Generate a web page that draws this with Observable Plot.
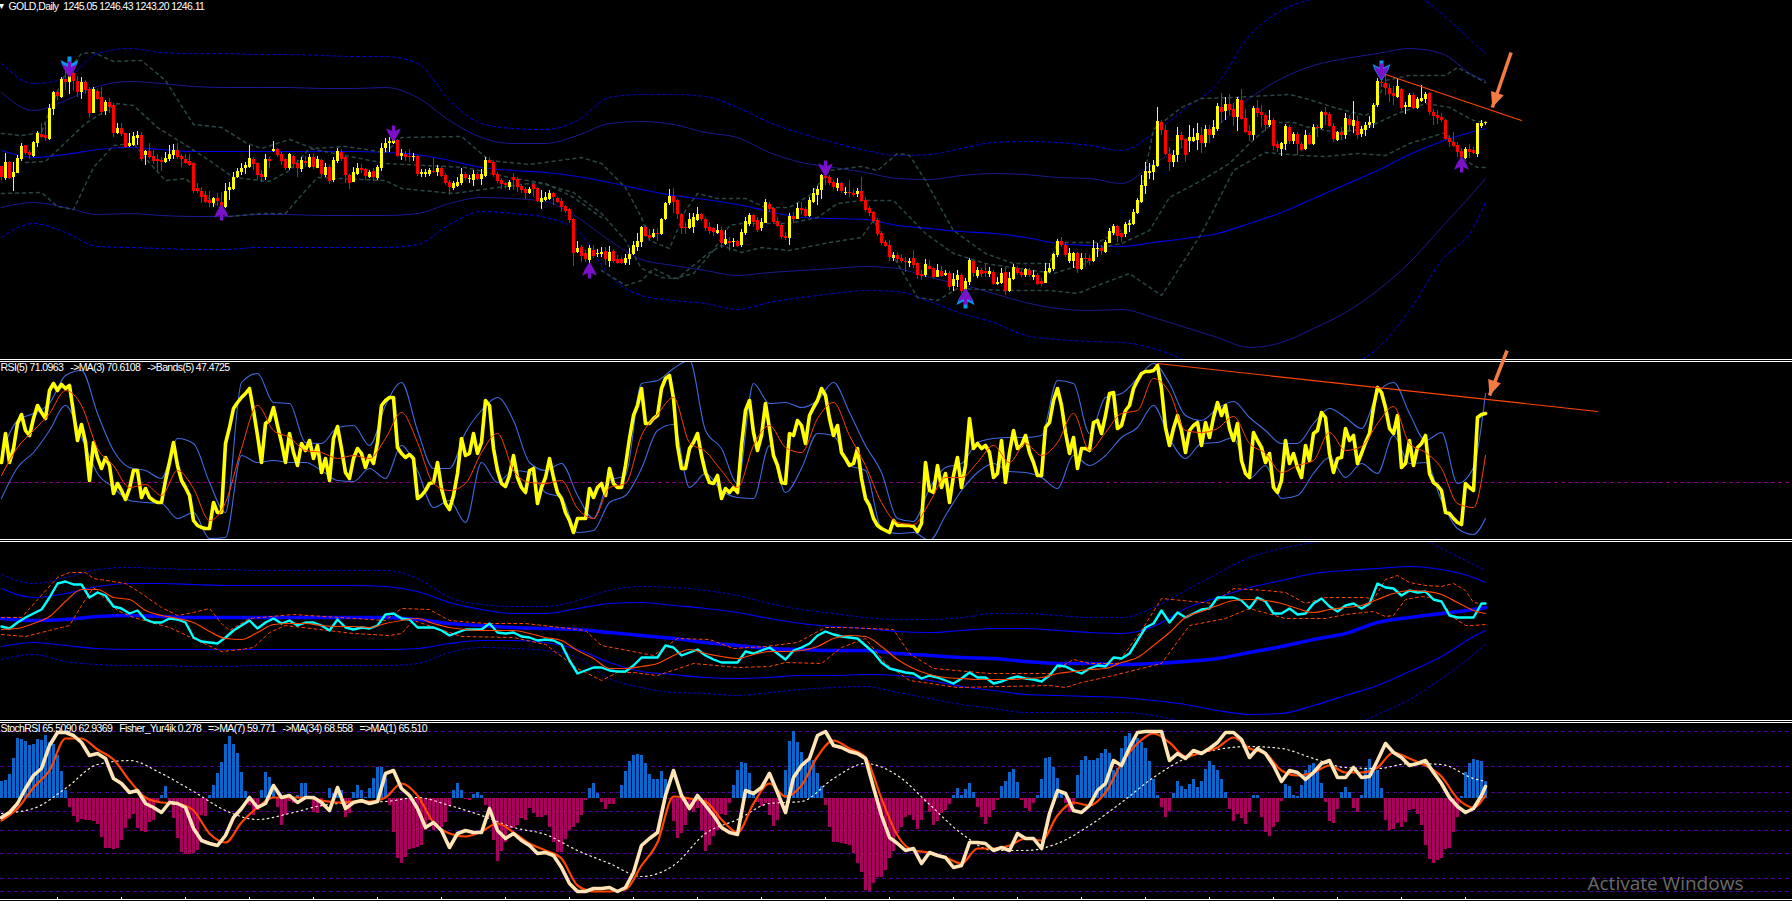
<!DOCTYPE html>
<html><head><meta charset="utf-8">
<script src="https://cdn.jsdelivr.net/npm/d3@7"></script>
<script src="https://cdn.jsdelivr.net/npm/@observablehq/plot@0.6"></script>
<style>
html,body{margin:0;padding:0;background:#000;width:1792px;height:901px;overflow:hidden}
.sep{height:1px;background:#fff}.gap{height:1px;background:#000}
#chart svg{display:block}
</style></head><body><div id="chart"></div>
<script>
// ---- Price pane: daily candles (USD) ----
const direction =
"DUDUUUDDUU"+"DDUUDUDUDD"+"UDDUDDUDDU"+"DDUUUDUDDD"+"DUUUDDDDDD"+"DDDUDDUUUU"+"UUUDDDUDUD"+"DDUDDUDUDU"+"DUDUUDDDUU"+"DDUDUUUUUD"+
"UDDUDUUUDU"+"DDDUUUDUUD"+"UUDDDDDUDD"+"DDUDDUUUDD"+"DDDDUDDUDU"+"UDUDDDUUUU"+"UDDUDUUUDD"+"DDUUUDDDDU"+"DUDUDUUUDD"+"UUDDDDDUDU"+
"DDUUUUDDDU"+"DUDDUDDDDD"+"DDDUDDDUDD"+"DUDDUDUDUU"+"DUUDUDDUDU"+"UDUUDDUDUD"+"DUUUUDDUUD"+"UDDUUDUUUD"+"DUUUUUUUUU"+"DDDUUDDUUU"+
"DUDUUDUDDU"+"DDDUDDDUDD"+"UUDUDDUDUD"+"UDDDUDUDUD"+"UUUUUDDDDU"+"DUUDUUUDDD"+"DDDDDDUDDUUU";
const bodyTop = [1202,1206,1206,1196,1210,1222,1223,1216,1226,1235,
1234,1233,1260,1276,1276,1289,1289,1295,1295,1287,1286,1286,1279,1279,1277,1271,1266,1266,1263,1240,
1240,1235,1225,1232,1233,1233,1217,1217,1212,1209,1208,1210,1214,1218,1218,1212,1209,1207,1205,1180,
1177,1173,1168,1170,1170,1166,1177,1181,1191,1197,1200,1203,1210,1209,1205,1194,1209,1209,1219,1219,
1214,1209,1214,1212,1205,1208,1207,1211,1211,1209,1208,1201,1201,1208,1217,1216,1211,1193,1196,1200,
1200,1199,1196,1197,1201,1220,1225,1227,1228,1228,1215,1214,1212,1212,1212,1196,1196,1198,1197,1200,
1200,1193,1186,1185,1186,1194,1194,1190,1194,1194,1194,1208,1208,1206,1194,1188,1185,1186,1191,1189,
1182,1179,1179,1184,1180,1170,1171,1175,1175,1170,1167,1162,1159,1149,1120,1121,1115,1120,1118,1115,
1116,1117,1116,1117,1109,1109,1110,1114,1123,1127,1141,1141,1133,1135,1135,1149,1165,1172,1172,1168,
1154,1141,1149,1151,1154,1154,1149,1141,1140,1138,1138,1129,1127,1127,1127,1136,1147,1153,1153,1148,
1146,1166,1164,1160,1147,1143,1132,1152,1152,1160,1160,1159,1168,1175,1179,1193,1192,1191,1186,1185,
1185,1176,1176,1175,1177,1177,1168,1160,1156,1148,1135,1126,1123,1113,1113,1110,1107,1107,1110,1105,
1094,1104,1102,1100,1098,1097,1095,1095,1089,1093,1093,1087,1108,1107,1098,1098,1097,1097,1096,1086,
1095,1096,1090,1101,1100,1096,1099,1098,1093,1093,1087,1097,1100,1114,1127,1127,1123,1115,1115,1115,
1110,1110,1110,1120,1120,1120,1126,1137,1142,1142,1135,1144,1145,1156,1168,1183,1197,1197,1203,1247,
1246,1238,1214,1213,1233,1233,1229,1231,1231,1235,1233,1239,1239,1241,1262,1261,1264,1264,1259,1269,
1268,1250,1237,1260,1260,1256,1253,1248,1248,1224,1225,1242,1241,1234,1234,1224,1233,1233,1241,1241,
1256,1256,1254,1242,1236,1236,1250,1249,1248,1247,1239,1243,1246,1263,1287,1286,1285,1280,1275,1282,
1279,1263,1273,1273,1269,1270,1274,1275,1256,1253,1251,1248,1230,1226,1223,1217,1219,1219,1218,1245,1245,1246.11];
const bodyBottom = [1191,1190,1190,1191,1195,1209,1215,1213,1212,1225,
1231,1230,1229,1259,1272,1271,1286,1286,1287,1276,1276,1278,1255,1255,1269,1256,1257,1261,1235,1235,
1234,1221,1222,1223,1230,1209,1213,1211,1207,1207,1206,1206,1209,1213,1211,1209,1205,1203,1177,1177,
1171,1166,1165,1165,1167,1161,1161,1178,1179,1191,1196,1200,1201,1204,1193,1191,1191,1207,1217,1213,
1207,1200,1200,1204,1200,1199,1205,1201,1201,1200,1194,1193,1187,1188,1207,1209,1193,1185,1186,1194,
1198,1192,1191,1191,1190,1200,1220,1225,1225,1212,1212,1211,1211,1211,1194,1194,1194,1194,1196,1196,
1192,1185,1181,1180,1182,1185,1190,1189,1188,1189,1189,1192,1205,1193,1187,1184,1183,1181,1188,1181,
1178,1175,1175,1179,1167,1166,1168,1169,1171,1166,1161,1157,1148,1115,1116,1112,1109,1108,1112,1114,
1114,1109,1107,1107,1105,1105,1105,1109,1114,1121,1126,1132,1130,1131,1134,1134,1149,1165,1166,1154,
1140,1140,1140,1141,1148,1149,1140,1137,1136,1135,1125,1124,1125,1126,1122,1123,1135,1144,1146,1138,
1140,1145,1159,1146,1142,1131,1130,1130,1149,1149,1158,1152,1152,1166,1173,1178,1190,1185,1181,1180,
1177,1175,1175,1173,1174,1167,1158,1155,1147,1134,1125,1122,1111,1110,1109,1107,1106,1105,1103,1093,
1092,1093,1099,1091,1091,1092,1093,1081,1082,1088,1077,1078,1086,1095,1092,1094,1095,1094,1084,1084,
1085,1077,1077,1089,1095,1093,1093,1093,1091,1084,1084,1085,1096,1099,1113,1123,1113,1107,1107,1099,
1099,1109,1107,1107,1119,1117,1116,1125,1135,1132,1131,1134,1143,1144,1155,1166,1182,1195,1196,1202,
1238,1214,1206,1206,1213,1228,1213,1227,1227,1228,1225,1225,1233,1233,1239,1256,1257,1258,1251,1251,
1249,1236,1233,1233,1255,1253,1243,1243,1222,1220,1219,1224,1227,1227,1224,1218,1219,1224,1224,1240,
1240,1253,1242,1229,1228,1233,1233,1243,1242,1233,1234,1238,1243,1245,1263,1285,1280,1274,1272,1271,
1260,1261,1261,1260,1260,1267,1269,1256,1252,1250,1248,1229,1226,1222,1216,1211,1210,1216,1215,1214,1242,1245.05];
const high = [1202,1215,1207,1206,1213,1225,1223,1218,1227,1237,
1245,1245,1264,1277,1278,1291,1300,1299,1296,1292,1291,1288,1281,1281,1279,1281,1268,1270,1265,1245,
1245,1235,1235,1236,1237,1236,1218,1225,1218,1214,1211,1216,1223,1224,1225,1214,1214,1214,1206,1185,
1181,1177,1177,1171,1175,1176,1185,1186,1196,1200,1205,1206,1223,1211,1206,1198,1214,1211,1227,1220,
1216,1210,1215,1213,1208,1211,1212,1214,1214,1212,1209,1205,1203,1211,1220,1219,1212,1194,1201,1205,
1204,1200,1198,1200,1203,1225,1230,1231,1235,1229,1219,1217,1219,1215,1213,1199,1199,1200,1210,1203,
1202,1195,1188,1187,1191,1200,1196,1193,1198,1196,1199,1211,1211,1207,1196,1190,1186,1188,1195,1191,
1184,1181,1181,1185,1181,1178,1176,1178,1176,1171,1170,1163,1160,1150,1127,1123,1118,1123,1123,1119,
1121,1121,1122,1119,1113,1111,1114,1120,1127,1135,1142,1143,1139,1139,1140,1150,1166,1179,1180,1169,
1155,1146,1155,1155,1161,1155,1151,1146,1141,1144,1141,1138,1131,1130,1128,1139,1151,1155,1154,1151,
1150,1169,1166,1161,1151,1145,1136,1155,1156,1165,1166,1161,1171,1180,1182,1194,1196,1193,1188,1190,
1186,1181,1188,1179,1180,1191,1171,1162,1157,1150,1137,1128,1128,1116,1115,1114,1111,1110,1118,1106,
1098,1109,1108,1101,1104,1102,1098,1097,1095,1098,1095,1090,1110,1108,1101,1100,1105,1101,1098,1091,
1100,1101,1096,1104,1102,1098,1100,1100,1098,1095,1090,1105,1105,1115,1129,1131,1126,1120,1116,1116,
1115,1115,1113,1128,1125,1123,1128,1140,1144,1143,1136,1146,1148,1159,1170,1193,1206,1205,1208,1261,
1248,1243,1221,1218,1241,1236,1230,1243,1240,1245,1241,1243,1243,1248,1265,1275,1271,1274,1265,1271,
1279,1259,1243,1262,1268,1263,1255,1258,1250,1227,1226,1244,1243,1236,1236,1226,1238,1235,1244,1243,
1257,1261,1256,1245,1237,1241,1255,1253,1267,1252,1242,1246,1252,1265,1290,1292,1293,1284,1282,1289,
1280,1266,1275,1275,1271,1283,1276,1276,1259,1258,1255,1249,1233,1236,1226,1220,1221,1224,1221,1245,1248,1246.43];
const low = [1188,1188,1189,1177,1195,1207,1213,1209,1211,1221,
1230,1227,1228,1253,1268,1270,1278,1274,1277,1271,1269,1274,1250,1255,1268,1253,1253,1255,1231,1234,
1232,1220,1221,1222,1223,1207,1203,1209,1204,1197,1197,1205,1207,1209,1209,1201,1204,1202,1175,1175,
1165,1165,1161,1161,1162,1159,1160,1168,1178,1190,1193,1194,1200,1198,1188,1186,1188,1200,1216,1211,
1203,1198,1198,1200,1191,1196,1201,1200,1199,1200,1191,1191,1184,1186,1205,1207,1185,1179,1186,1193,
1195,1188,1190,1187,1188,1197,1216,1216,1224,1211,1208,1207,1206,1207,1192,1191,1191,1192,1195,1192,
1191,1183,1173,1178,1181,1183,1188,1185,1182,1188,1183,1191,1205,1191,1185,1179,1179,1178,1178,1176,
1175,1169,1174,1171,1166,1159,1167,1168,1163,1165,1156,1155,1145,1102,1115,1106,1106,1101,1110,1111,
1111,1103,1101,1105,1104,1104,1103,1103,1113,1117,1121,1131,1128,1130,1127,1133,1148,1163,1155,1149,
1134,1134,1139,1135,1147,1147,1137,1134,1132,1134,1120,1123,1117,1121,1121,1121,1133,1142,1141,1136,
1137,1145,1156,1144,1141,1129,1128,1123,1145,1149,1153,1151,1151,1165,1163,1169,1183,1183,1179,1177,
1175,1173,1171,1171,1171,1166,1156,1152,1145,1132,1123,1121,1107,1107,1105,1105,1096,1101,1100,1089,
1088,1091,1098,1090,1091,1091,1092,1078,1077,1081,1075,1077,1083,1091,1090,1091,1091,1091,1083,1083,
1084,1073,1076,1088,1093,1091,1091,1091,1088,1083,1082,1085,1095,1097,1111,1121,1111,1105,1100,1095,
1098,1101,1103,1106,1111,1113,1115,1125,1133,1126,1126,1131,1136,1143,1154,1165,1174,1189,1188,1201,
1233,1213,1197,1201,1206,1220,1206,1216,1226,1218,1215,1221,1225,1230,1237,1245,1248,1253,1242,1237,
1248,1235,1227,1228,1251,1241,1237,1241,1218,1216,1212,1218,1224,1224,1213,1217,1218,1223,1223,1231,
1239,1243,1241,1226,1227,1228,1229,1236,1235,1229,1231,1232,1240,1240,1261,1281,1273,1266,1263,1270,
1258,1254,1261,1259,1259,1266,1265,1253,1243,1244,1246,1228,1221,1221,1211,1209,1209,1210,1214,1211,1240,1243.2];

// Bollinger envelopes on the price pane, read every 8 bars
const bandOuterUpper=[1305,1285,1290,1315,1320,1316,1315,1315,1314,1314,1313,1312,1312,1305,1268,1245,1240,1239,1248,1271,1274,1274,1272,1261,1246,1235,1226,1218,1213,1214,1220,1226,1227,1226,1223,1218,1235,1260,1285,1333,1358,1370,1380,1385,1378,1355,1326,1315];
const bandInnerUpper=[1276,1258,1268,1282,1287,1285,1282,1281,1281,1281,1280,1280,1281,1271,1248,1231,1225,1225,1233,1245,1247,1244,1236,1231,1216,1206,1201,1196,1190,1189,1193,1195,1194,1191,1190,1185,1205,1223,1243,1270,1290,1303,1310,1315,1320,1315,1293,1288];
const bandMiddle=[1218,1211,1214,1219,1221,1219,1217,1217,1217,1217,1217,1217,1216,1214,1208,1201,1198,1196,1192,1186,1179,1173,1169,1164,1157,1151,1150,1149,1143,1140,1137,1135,1131,1125,1123,1122,1126,1130,1135,1145,1156,1170,1184,1198,1214,1227,1237,1240];
const bandInnerLower=[1161,1166,1161,1154,1155,1153,1152,1152,1154,1154,1153,1153,1153,1155,1165,1171,1170,1167,1151,1128,1109,1103,1098,1093,1096,1098,1100,1102,1100,1091,1084,1075,1066,1060,1058,1059,1051,1041,1031,1021,1026,1040,1056,1078,1106,1141,1176,1190];
const bandOuterLower=[1131,1145,1136,1122,1121,1120,1119,1119,1121,1121,1121,1121,1121,1124,1144,1157,1155,1151,1138,1093,1073,1068,1065,1059,1066,1071,1075,1078,1077,1067,1055,1046,1033,1029,1027,1026,1020,1008,993,983,983,988,1001,1020,1058,1108,1141,1166];
// Short period envelopes: [bar, price] pairs
const shortUpper=[[0,1235],[5,1233],[10,1236],[13,1268],[16,1295],[20,1315],[23,1316],[28,1307],[35,1308],[41,1288],[48,1244],[55,1241],[61,1226],[65,1220],[72,1229],[78,1220],[86,1222],[96,1216],[100,1231],[115,1232],[122,1208],[132,1204],[145,1211],[150,1205],[156,1181],[160,1151],[162,1128],[167,1120],[171,1158],[174,1175],[179,1170],[186,1170],[191,1161],[197,1161],[202,1173],[207,1198],[215,1202],[219,1198],[224,1215],[227,1213],[231,1188],[238,1138],[246,1115],[253,1105],[262,1105],[264,1126],[274,1126],[280,1138],[284,1158],[288,1239],[295,1261],[300,1270],[308,1271],[322,1274],[326,1270],[334,1260],[341,1253],[343,1258],[346,1288],[352,1293],[361,1293],[364,1301],[371,1286]];
const shortLower=[[0,1175],[10,1176],[14,1162],[18,1159],[23,1201],[28,1223],[33,1225],[38,1201],[41,1188],[46,1190],[57,1152],[65,1155],[71,1155],[76,1178],[79,1191],[96,1188],[100,1180],[113,1175],[124,1181],[134,1186],[143,1176],[150,1155],[156,1128],[160,1100],[165,1091],[169,1090],[176,1113],[180,1123],[185,1116],[190,1121],[197,1118],[207,1126],[215,1131],[218,1148],[225,1098],[229,1071],[234,1068],[239,1080],[251,1078],[262,1078],[269,1075],[274,1083],[282,1095],[290,1073],[292,1085],[300,1135],[308,1198],[311,1205],[316,1216],[325,1213],[331,1212],[339,1215],[346,1213],[352,1225],[361,1236],[366,1208],[369,1201],[371,1201]];
const shortInnerA=[[6,1206],[11,1207],[21,1245],[29,1265],[33,1263],[39,1241],[45,1226],[52,1208],[58,1191],[67,1187],[72,1198],[77,1220],[96,1205],[116,1201],[127,1191],[136,1185],[143,1171],[150,1151]];
const shortInnerB=[[150,1098],[156,1083],[160,1088],[163,1100],[168,1090],[173,1095],[178,1118],[182,1143],[185,1145],[197,1145],[204,1151],[209,1165],[215,1168],[223,1168],[231,1135],[238,1115],[246,1105],[263,1095],[271,1105],[275,1121],[280,1125],[287,1138],[292,1171],[300,1188],[307,1205],[312,1225],[318,1246],[323,1246],[326,1242],[334,1236],[341,1240],[349,1255],[356,1265],[362,1261],[368,1248],[371,1246]];
// Buy and sell signal arrows
const sellPurpleBars=[17,98,206,345], sellPurplePrices=[1299,1235,1200,1297];
const buyPurpleBars=[55,147,241,365], buyPurplePrices=[1156,1098,1072,1204];
const sellBlueBars=[17,345], sellBluePrices=[1302,1298];
const buyBlueBars=[241], buyBluePrices=[1070];
const priceTrendBars=[346,380], priceTrendValues=[1294,1248];
const priceArrow={bar1:377.4,price1:1316,bar2:372.7,price2:1261};

// ---- RSI pane (176 units = 100 RSI) ----
const rsiLine=[76,105,76,90,115,124,108,103,120,133,126,120,148,155,148,154,150,153,126,98,
114,96,58,96,81,70,81,73,45,55,48,39,50,68,68,41,50,41,38,36,36,58,76,96,73,58,51,43,18,13,
11,10,10,36,26,26,95,111,130,136,141,145,150,128,103,76,115,118,131,113,96,76,105,86,73,95,88,98,80,93,
66,80,58,100,112,90,66,60,80,90,85,71,83,75,96,133,138,141,141,91,85,81,84,80,40,43,48,55,56,76,
50,35,29,43,65,100,83,85,105,85,96,138,133,90,68,55,52,63,83,61,51,46,68,70,35,51,61,80,61,46,
40,26,18,6,20,20,20,50,41,51,
55,43,70,55,51,51,73,100,123,133,150,115,115,120,123,150,160,163,140,93,70,70,90,96,105,83,66,56,55,63,
40,50,46,51,46,93,128,138,106,88,103,135,110,83,73,56,55,105,103,118,113,95,123,131,138,150,143,120,103,113,
86,80,73,75,90,60,40,33,20,13,10,8,6,18,13,13,13,13,12,7,15,76,48,46,73,51,65,36,63,81,
51,73,120,90,95,90,93,86,61,65,98,56,86,108,90,93,103,86,76,63,63,111,116,138,150,133,106,85,101,70,
90,90,88,116,118,105,123,145,146,110,113,128,133,150,158,165,167,167,168,173,150,111,93,110,123,108,86,108,113,116,
93,116,101,121,136,123,133,110,98,115,78,65,61,106,98,91,76,85,51,46,58,98,75,85,71,61,93,78,105,108,
126,121,85,66,80,81,110,98,103,75,85,96,105,131,151,146,131,110,105,123,71,75,98,73,91,95,103,65,56,53,
48,26,25,20,16,14,55,51,48,121,124,125];
// Read every 4 bars
const rsiMA=[63,91,108,125,148,133,90,73,51,54,43,68,50,18,36,90,133,108,101,88,86,80,83,80,100,126,96,55,48,55,86,105,68,56,55,58,30,20,
51,55,103,124,141,96,87,68,51,93,113,91,86,120,136,103,73,36,16,14,36,61,61,76,93,76,95,83,96,125,88,106,125,128,160,146,108,
106,110,122,95,85,66,73,78,106,88,92,115,132,95,86,70,35,31,83];
const rsiUpper=[86,118,125,135,163,168,125,88,71,68,60,100,95,56,26,156,165,136,135,96,95,111,113,93,133,156,108,70,70,106,128,141,118,76,68,75,43,20,
58,63,155,158,170,178,108,90,55,155,135,136,131,138,156,126,93,66,20,17,50,71,75,96,100,101,101,103,158,155,105,141,145,160,175,155,123,
118,130,137,121,108,95,95,115,130,121,110,145,156,125,98,106,55,71,145];
const rsiLower=[40,71,86,108,133,101,65,51,38,36,35,20,26,0,1,83,76,78,76,76,68,58,57,70,60,93,68,31,38,16,76,56,68,66,46,41,6,8,
36,43,70,108,114,51,65,48,41,40,93,46,70,105,103,73,68,10,5,6,-2,23,48,66,75,67,66,61,50,83,73,83,101,111,133,100,80,
95,96,101,60,73,40,43,65,81,61,75,65,103,75,76,38,10,4,20];
const rsiLevel=[56];
const rsiTrendBars=[289,399], rsiTrendValues=[175,127];
const rsiArrow={bar1:376.4,rsi1:188,bar2:372,rsi2:143};

// ---- Third pane: smoothed line with envelopes ----
const cyanLine=[94,92,98,103,107,111,123,137,139,136,136,123,128,125,114,112,107,110,101,98,
98,102,101,98,83,79,78,77,83,90,95,100,92,98,102,97,100,95,98,98,95,90,101,93,91,93,92,95,106,107,
102,101,93,93,93,90,85,88,91,91,91,97,88,87,88,84,83,80,81,80,76,60,47,50,53,53,
50,49,49,55,63,63,63,75,73,65,68,71,65,61,58,58,58,69,67,70,73,67,61,70,73,77,85,89,86,84,
83,82,75,68,58,52,50,48,47,42,45,43,40,37,42,48,43,43,37,39,42,44,42,41,39,45,55,54,50,47,
52,55,54,63,62,67,80,93,97,110,98,108,103,107,111,112,123,123,123,120,112,123,119,107,107,112,106,107,117,122,
114,109,115,117,112,117,137,133,132,125,130,128,129,121,119,105,103,103,103,117,117];
const thirdMA=[91,92,97,104,119,131,131,123,121,110,105,102,98,89,82,81,88,96,97,97,95,94,94,93,97,100,102,97,93,91,90,90,90,87,83,80,70,62,
52,52,54,57,65,71,67,64,62,66,69,69,70,74,82,85,84,74,61,52,46,43,42,41,41,41,42,43,47,49,51,52,58,63,75,88,103,109,115,120,121,120,117,112,108,111,113,115,121,127,
130,129,126,118,110,107];
const thirdMiddle=[102,100,101,104,105,104,103,103,103,103,103,103,103,101,97,95,93,92,91,88,85,82,78,75,72,71,70,70,67,65,63,62,59,57,57,56,57,59,62,68,74,81,87,98,103,107,111,113];
const thirdInnerUpper=[132,123,127,134,137,137,136,135,135,135,135,135,134,129,118,111,107,107,112,117,118,115,112,108,102,97,94,92,89,88,90,92,92,90,88,87,94,112,123,133,140,147,150,152,154,151,143,138];
const thirdInnerLower=[74,78,75,72,71,71,71,71,71,71,71,71,71,72,77,80,80,78,71,58,49,46,43,42,43,45,45,46,45,40,34,30,26,25,24,23,20,16,10,6,7,15,25,35,49,64,84,90];
const thirdOuterUpper=[146,137,143,151,153,152,151,151,150,150,150,150,150,142,123,116,114,114,120,130,134,133,130,125,117,111,107,103,101,101,103,107,107,105,103,103,113,130,147,163,172,178,182,186,186,172,156,150];
const thirdOuterLower=[61,66,59,56,55,55,54,54,55,55,55,55,55,57,68,73,72,70,63,42,33,28,27,25,28,31,33,34,28,22,16,12,8,8,8,8,5,-2,-10,-15,-15,-12,-8,6,21,42,66,76];
const thirdDashUpper=[[0,103],[5,103],[14,143],[17,148],[21,148],[23,142],[31,137],[35,127],[40,113],[44,105],[48,108],[52,112],[55,97],[57,90],[62,102],[73,106],[96,100],[100,112],[107,111],[112,100],[121,97],[131,97],[144,91],[146,90],[150,75],[163,65],[169,82],[177,81],[183,72],[191,74],[199,78],[206,93],[211,93],[223,91],[227,67],[233,52],[247,47],[262,47],[268,61],[272,57],[279,57],[285,90],[290,122],[303,117],[308,132],[316,130],[321,128],[326,117],[331,123],[341,123],[343,121],[346,141],[349,145],[352,138],[356,135],[360,134],[363,137],[366,130],[368,118],[371,116]];
const thirdDashLower=[[0,86],[6,84],[12,90],[17,95],[20,115],[23,133],[29,110],[33,103],[42,93],[49,80],[55,69],[60,71],[63,73],[67,88],[71,95],[88,87],[97,85],[100,87],[103,100],[115,84],[128,83],[136,76],[144,52],[146,48],[150,40],[154,48],[158,48],[164,45],[173,57],[184,53],[192,54],[196,58],[205,57],[210,73],[216,82],[221,57],[227,40],[239,33],[262,35],[266,33],[270,38],[278,45],[290,57],[297,95],[306,102],[312,112],[321,102],[331,102],[336,106],[343,109],[346,104],[348,105],[351,121],[355,124],[357,123],[360,119],[363,103],[366,95],[368,95],[371,96]];

// ---- Fourth pane: StochRSI (160 units = 100) and Fisher histogram ----
const fisherZero=93;
const fisherHist=[17,18,24,40,60,59,57,53,54,59,58,63,56,54,43,27,8,-9,-18,-24,-21,-22,-22,-23,-26,-39,-50,-50,-51,-50,
-42,-30,-21,-16,-30,-33,-34,-24,-22,-4,3,12,-4,-20,-40,-54,-56,-56,-55,-52,-17,-18,3,13,25,36,54,62,54,45,
26,7,-7,-17,-12,8,26,21,8,-9,-27,-17,-3,-5,3,15,15,0,-14,-15,-9,0,10,5,12,8,-19,-15,6,13,
8,1,10,20,31,31,20,-7,-34,-60,-65,-59,-51,-50,-49,-47,-32,-22,-32,-30,-29,-24,-8,8,15,8,-1,-2,4,6,
3,-7,-19,-42,-63,-53,-44,-30,-30,-27,-20,-22,-10,-15,-19,-19,-17,-29,-44,-54,-54,-41,-32,-29,-25,-17,-2,10,15,5,
-4,-11,-6,-6,0,13,27,37,43,44,43,35,24,19,19,27,19,-1,-23,-40,-35,-27,-12,-14,-10,-32,-53,-47,-38,-32,
-16,-17,-5,13,28,36,35,25,7,-4,-8,-5,-17,-28,-22,0,28,57,67,56,46,36,41,38,25,12,-7,-29,-44,-44,
-45,-46,-47,-55,-65,-74,-92,-93,-85,-79,-79,-72,-60,-53,-35,-29,-19,-17,-22,-31,-22,-4,-14,-27,-23,-15,-12,-6,3,10,
3,9,15,6,-9,-19,-26,-19,-12,-2,12,17,26,29,16,-2,-10,-13,-5,3,19,40,41,31,20,6,-5,-14,-7,23,
38,42,38,38,40,
45,49,45,28,30,50,62,65,60,60,56,50,37,19,3,-9,-19,-13,5,17,12,9,14,19,11,17,29,37,33,28,19,6,-11,-23,-16,-20,-26,-14,3,3,
-19,-34,-38,-29,-24,-3,14,12,3,2,13,28,33,35,28,15,-4,-23,-25,-11,6,11,6,-10,-14,3,30,39,30,28,10,-22,-32,-31,-25,-29,-24,-12,-11,-16,
-27,-47,-61,-65,-62,-60,-51,-50,-34,-19,2,26,35,39,38,37,17];
const stochMain=[74,79,88,103,116,123,146,159,159,156,149,136,138,133,113,108,99,101,88,84,79,89,88,84,63,51,48,46,56,74,
83,94,84,88,106,94,96,89,94,94,89,81,104,83,89,91,88,90,118,121,103,96,83,64,69,61,44,58,61,59,
59,83,61,53,58,51,46,38,39,36,24,8,0,0,3,
3,4,0,4,19,46,53,59,96,121,96,83,96,86,76,64,59,57,101,98,104,118,99,79,114,126,133,156,160,146,
144,140,138,133,104,76,54,48,41,43,28,39,36,34,24,26,49,49,48,41,44,41,58,53,53,43,78,101,98,81,79,86,101,
108,131,126,144,159,160,160,160,131,138,133,141,138,143,149,159,159,152,134,143,138,126,110,121,119,112,119,128,131,114,
114,124,114,115,131,148,139,134,126,128,131,119,108,94,85,79,83,96,105];
const stochMA7=[71,83,104,121,153,153,142,132,111,94,89,88,81,58,49,69,84,94,94,94,91,89,90,90,94,108,96,69,58,55,60,68,59,48,41,33,6,0,
0,2,26,49,95,93,90,72,59,88,108,95,106,135,151,143,134,93,56,41,39,34,28,43,43,46,53,51,76,89,86,
99,128,148,158,149,135,139,144,154,143,138,121,116,119,126,119,119,124,139,133,126,115,93,84,96];
const stochMA34=[78,83,103,127,131,118,100,81,72,78,86,89,90,94,86,76,64,57,41,28,15,26,58,72,88,90,113,128,116,87,58,41,41,48,66,89,114,133,142,145,143,133,124,123,128,127,113,110];
const stochLevels=[160,125,99,80,61,38,13,0];
const timeTickBars=d3.range(14,372,16);

// ---- Texts ----
const priceLabel="GOLD,Daily  1245.05 1246.43 1243.20 1246.11";
const rsiLabel="RSI(5) 71.0963   ->MA(3) 70.6108   ->Bands(5) 47.4725";
const stochLabel="StochRSI 65.5090 62.9369   Fisher_Yur4ik 0.278   =>MA(7) 59.771   ->MA(34) 68.558   =>MA(1) 65.510";
const watermark="Activate Windows";

// ---- Colours ----
const GOLD_UP="#ffff00", GOLD_DOWN="#ff0000", NAVY="#1a1a8e", BLUE="#0000e6", PURE="#0000ff", SLATE="#2a4646",
      ORANGE="#ff4500", ROYAL="#4169e1", CYAN="#00ffff", CREAM="#ffe4b5", COAST="#f47b42",
      HIST_UP="#0a66c8", HIST_DOWN="#aa0060";
const FONT="'Liberation Sans',Arial,sans-serif";

// ---- Helpers ----
const LAST=371;
const byStep=(vals,step)=>vals.map((v,j)=>({bar:Math.min(j*step,LAST),v}));
const pairs=a=>a.map(([bar,v])=>({bar,v}));
const zip=(bars,vals)=>bars.map((bar,j)=>({bar,v:vals[j]}));
const L=(rows,opt)=>Plot.line(rows,{x:"bar",y:"v",clip:true,...opt});
const band=(vals,opt)=>L(byStep(vals,8),{curve:"monotone-x",...opt});
const arrowShape=dir=>({draw(ctx,size){
  const r=Math.sqrt(size/Math.PI);
  const pts=[[-.2,-1],[.2,-1],[.2,-.3],[.9,-.65],[.7,-.1],[.12,.9],[0,1],[-.12,.9],[-.7,-.1],[-.9,-.65],[-.2,-.3]];
  pts.forEach(([a,b],j)=>{const X=a*r,Y=b*r*dir; j?ctx.lineTo(X,Y):ctx.moveTo(X,Y);});
  ctx.closePath();
}});
const signals=(bars,prices,dir,r,fill)=>Plot.dot(zip(bars,prices),{x:"bar",y:"v",r,fill,symbol:arrowShape(dir)});
// Filled head of the hand drawn annotation arrows, tip on the anchor point
const headShape={draw(ctx,size){
  const r=Math.sqrt(size/Math.PI), ux=-.33, uy=.94, bx=-ux*r*1.7, by=-uy*r*1.7, w=r*.75;
  ctx.moveTo(0,0); ctx.lineTo(bx+uy*w,by-ux*w); ctx.lineTo(bx-uy*w,by+ux*w); ctx.closePath();
}};
const pane=(height,domain,marks)=>Plot.plot({
  width:1792,height,margin:0,
  x:{domain:[-0.25,447.75],range:[0,1792],axis:null},
  y:{domain,range:[height,0],axis:null},
  style:{background:"transparent",overflow:"visible",display:"block"},
  marks});
const label=(text,dx,dy)=>Plot.text([text],{frameAnchor:"top-left",dx,dy,text:d=>d,fill:"#fff",fontSize:10.5,fontFamily:FONT,textAnchor:"start",lineAnchor:"top"});

const candles=direction.split("").map((d,i)=>({bar:i,up:d==="U",top:bodyTop[i],bottom:bodyBottom[i],high:high[i],low:low[i]}));
const upC=candles.filter(c=>c.up), dnC=candles.filter(c=>!c.up);
const candleMarks=(rows,stroke)=>[
  Plot.ruleX(rows,{x:"bar",y1:"low",y2:"high",stroke,strokeWidth:1}),
  Plot.ruleX(rows,{x:"bar",y1:"bottom",y2:"top",stroke,strokeWidth:3})];
const slate={stroke:SLATE,strokeDasharray:"3,4"};

const p1=pane(359,[1009,1368],[
  band(bandOuterUpper,{stroke:BLUE,strokeWidth:1,strokeDasharray:"3,3"}),
  band(bandInnerUpper,{stroke:NAVY,strokeWidth:1}),
  band(bandMiddle,{stroke:BLUE,strokeWidth:1.2}),
  band(bandInnerLower,{stroke:NAVY,strokeWidth:1}),
  band(bandOuterLower,{stroke:BLUE,strokeWidth:1,strokeDasharray:"3,3"}),
  L(pairs(shortUpper),slate),
  L(pairs(shortLower),slate),
  L(pairs(shortInnerA),slate),
  L(pairs(shortInnerB),slate),
  ...candleMarks(upC,GOLD_UP),
  ...candleMarks(dnC,GOLD_DOWN),
  signals(sellBlueBars,sellBluePrices,1,10,"#0a96f0"),
  signals(buyBlueBars,buyBluePrices,-1,10,"#0a96f0"),
  signals(sellPurpleBars,sellPurplePrices,1,8,"#7a10c8"),
  signals(buyPurpleBars,buyPurplePrices,-1,8,"#7a10c8"),
  L(zip(priceTrendBars,priceTrendValues),{stroke:ORANGE,strokeWidth:1.2}),
  Plot.link([priceArrow],{x1:"bar1",y1:"price1",x2:"bar2",y2:"price2",stroke:COAST,strokeWidth:3.5}),
  Plot.dot([priceArrow],{x:"bar2",y:"price2",r:9,fill:COAST,symbol:headShape}),
  label(priceLabel,8,2),
  Plot.text(["▾"],{frameAnchor:"top-left",dx:-2,dy:1,text:d=>d,fill:"#fff",fontSize:10,textAnchor:"start",lineAnchor:"top"})
]);

const p2=pane(177,[-1,176],[
  Plot.ruleY(rsiLevel,{stroke:"#800080",strokeDasharray:"4,3",strokeWidth:1}),
  L(byStep(rsiUpper,4),{stroke:ROYAL,strokeWidth:1.1,curve:"monotone-x"}),
  L(byStep(rsiLower,4),{stroke:ROYAL,strokeWidth:1.1,curve:"monotone-x"}),
  L(byStep(rsiLine,1),{stroke:GOLD_UP,strokeWidth:3.6}),
  L(byStep(rsiMA,4),{stroke:ORANGE,strokeWidth:1,curve:"monotone-x"}),
  Plot.line(zip(rsiTrendBars,rsiTrendValues),{x:"bar",y:"v",stroke:ORANGE,strokeWidth:1.2}),
  Plot.link([rsiArrow],{x1:"bar1",y1:"rsi1",x2:"bar2",y2:"rsi2",stroke:COAST,strokeWidth:3.5}),
  Plot.dot([rsiArrow],{x:"bar2",y:"rsi2",r:9,fill:COAST,symbol:headShape}),
  label(rsiLabel,0,1)
]);

const p3=pane(178,[0,178],[
  band(thirdOuterUpper,{stroke:BLUE,strokeWidth:1,strokeDasharray:"2,3"}),
  band(thirdInnerUpper,{stroke:PURE,strokeWidth:1.2}),
  band(thirdInnerLower,{stroke:PURE,strokeWidth:1.2}),
  band(thirdOuterLower,{stroke:BLUE,strokeWidth:1,strokeDasharray:"2,3"}),
  band(thirdMiddle,{stroke:PURE,strokeWidth:3.5}),
  L(pairs(thirdDashUpper),{stroke:ORANGE,strokeWidth:1,strokeDasharray:"3,3"}),
  L(pairs(thirdDashLower),{stroke:ORANGE,strokeWidth:1,strokeDasharray:"3,3"}),
  L(byStep(cyanLine,2),{stroke:CYAN,strokeWidth:2.4}),
  L(byStep(thirdMA,4),{stroke:ORANGE,strokeWidth:1.2,curve:"monotone-x"})
]);

const hist=fisherHist.map((v,i)=>({bar:i,base:fisherZero,tip:fisherZero+v,v}));
const p4=pane(176,[-8,168],[
  Plot.ruleY(stochLevels,{stroke:"#4f0099",strokeWidth:1,strokeDasharray:"4,3"}),
  Plot.ruleX(hist.filter(d=>d.v>=0),{x:"bar",y1:"base",y2:"tip",stroke:HIST_UP,strokeWidth:3}),
  Plot.ruleX(hist.filter(d=>d.v<0),{x:"bar",y1:"base",y2:"tip",stroke:HIST_DOWN,strokeWidth:3}),
  L(byStep(stochMA34,8),{stroke:"#fff0d8",strokeWidth:1.2,strokeDasharray:"1.5,3.5",curve:"monotone-x"}),
  L(byStep(stochMA7,4),{stroke:ORANGE,strokeWidth:2.2,curve:"monotone-x"}),
  L(byStep(stochMain,2),{stroke:CREAM,strokeWidth:3.6}),
  Plot.ruleX(timeTickBars,{x:d=>d,y1:-8,y2:-6,stroke:"#fff",strokeWidth:1}),
  label(stochLabel,0,1),
  Plot.text([watermark],{x:()=>396.5,y:()=>8,text:d=>d,fill:"#6a6a6a",fontSize:19,fontFamily:"'Open Sans',sans-serif",textAnchor:"start"})
]);

const root=document.getElementById("chart");
const sep=()=>{const f=document.createDocumentFragment();
  for(const c of ["sep","gap","sep"]){const d=document.createElement("div");d.className=c;f.appendChild(d);} return f;};
root.append(p1,sep(),p2,sep(),p3,sep(),p4);
const end=document.createElement("div");end.className="sep";root.append(end);
// The terminal's narrow bitmap font: tighten the indicator captions
root.querySelectorAll("text").forEach(t=>{ if(t.textContent!==watermark) t.style.letterSpacing="-0.6px"; });
</script></body></html>
